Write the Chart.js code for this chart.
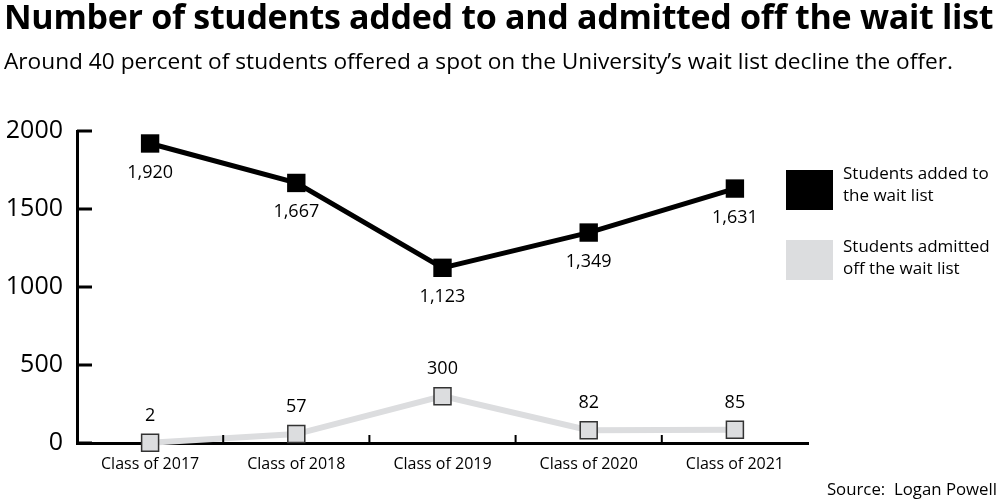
<!DOCTYPE html>
<html>
<head>
<meta charset="utf-8">
<script src="https://cdn.jsdelivr.net/npm/chart.js@4"></script>
<style>
  body { margin: 0; background: #fff; font-family: "Open Sans", sans-serif; }
  #wrap { position: relative; width: 1000px; height: 503px; overflow: hidden; }
  #chart { position: absolute; left: 0; top: 0; }
  .title { position: absolute; left: 4px; top: -7px; font-weight: 700; font-size: 34px; letter-spacing: -0.3px; color: #000; white-space: nowrap; }
  .sub { position: absolute; left: 4px; top: 45px; font-size: 22.7px; color: #000; white-space: nowrap; }
  .leg { position: absolute; left: 786px; width: 47px; height: 40px; }
  .legtxt { position: absolute; left: 843px; font-size: 17px; line-height: 22px; color: #000; white-space: nowrap; }
  .src { position: absolute; right: 3px; top: 477px; font-size: 16.8px; color: #000; }
</style>
</head>
<body>
<div id="wrap">
  <canvas id="chart" width="1000" height="503"></canvas>
  <div class="title">Number of students added to and admitted off the wait list</div>
  <div class="sub">Around 40 percent of students offered a spot on the University’s wait list decline the offer.</div>
  <div class="leg" style="top:170px;background:#000"></div>
  <div class="legtxt" style="top:162px">Students added to<br>the wait list</div>
  <div class="leg" style="top:240px;background:#dcdddf"></div>
  <div class="legtxt" style="top:235px">Students admitted<br>off the wait list</div>
  <div class="src">Source:&nbsp; Logan Powell</div>
</div>
<script>
const classes = ['Class of 2017', 'Class of 2018', 'Class of 2019', 'Class of 2020', 'Class of 2021'];
const addedToList = [1920, 1667, 1123, 1349, 1631];
const admittedOff = [2, 57, 300, 82, 85];
const yTicks = [0, 500, 1000, 1500, 2000];

// value labels next to each point, plus inward tick marks
const decorations = {
  id: 'decorations',
  afterDatasetsDraw(chart) {
    const ctx = chart.ctx;
    ctx.save();
    ctx.font = '18px "Open Sans", sans-serif';
    ctx.fillStyle = '#000';
    ctx.textAlign = 'center';
    ctx.textBaseline = 'middle';
    chart.data.datasets.forEach((ds, i) => {
      const meta = chart.getDatasetMeta(i);
      meta.data.forEach((pt, j) => {
        const offset = i === 0 ? 29 : -27;
        ctx.fillText(ds.data[j].toLocaleString('en-US'), pt.x, pt.y + offset);
      });
    });
    ctx.restore();
  },
  afterDraw(chart) {
    const ctx = chart.ctx;
    const x = chart.scales.x, y = chart.scales.y;
    ctx.save();
    ctx.strokeStyle = '#000';
    ctx.lineWidth = 3;
    ctx.beginPath();
    yTicks.forEach(v => {
      const py = y.getPixelForValue(v);
      ctx.moveTo(x.left, py);
      ctx.lineTo(x.left + 15, py);
    });
    ctx.stroke();
    ctx.lineWidth = 2;
    ctx.beginPath();
    for (let k = 1; k < classes.length; k++) {
      const px = (x.getPixelForValue(k - 1) + x.getPixelForValue(k)) / 2;
      ctx.moveTo(px, y.bottom);
      ctx.lineTo(px, y.bottom - 8);
    }
    ctx.stroke();
    ctx.restore();
  }
};

new Chart(document.getElementById('chart').getContext('2d'), {
  type: 'line',
  data: {
    labels: classes,
    datasets: [{
      label: 'Students added to the wait list',
      data: addedToList,
      borderColor: '#000',
      backgroundColor: '#000',
      borderWidth: 5,
      pointStyle: 'rect',
      pointRadius: 13,
      pointBorderWidth: 0,
      order: 0
    }, {
      label: 'Students admitted off the wait list',
      data: admittedOff,
      borderColor: '#dcdddf',
      backgroundColor: '#dcdddf',
      pointBorderColor: '#333',
      borderWidth: 6,
      pointStyle: 'rect',
      pointRadius: 12,
      pointBorderWidth: 1.5,
      order: 1
    }]
  },
  options: {
    responsive: false,
    animation: false,
    clip: false,
    layout: { padding: { top: 131, right: 192, left: 0, bottom: 0 } },
    plugins: { legend: { display: false }, tooltip: { enabled: false } },
    scales: {
      x: {
        offset: true,
        grid: { display: false, drawTicks: false },
        border: { color: '#000', width: 3 },
        ticks: { color: '#000', padding: 12, font: { family: 'Open Sans', size: 16 } },
        afterFit(s) { s.height = 60; }
      },
      y: {
        min: 0,
        max: 2000,
        afterBuildTicks(s) { s.ticks = yTicks.map(v => ({ value: v })); },
        grid: { display: false, drawTicks: false },
        border: { color: '#000', width: 3 },
        ticks: { color: '#000', padding: 14, font: { family: 'Open Sans', size: 25 }, callback: v => String(v) },
        afterFit(s) { s.width = 77; }
      }
    }
  },
  plugins: [decorations]
});
</script>
</body>
</html>
